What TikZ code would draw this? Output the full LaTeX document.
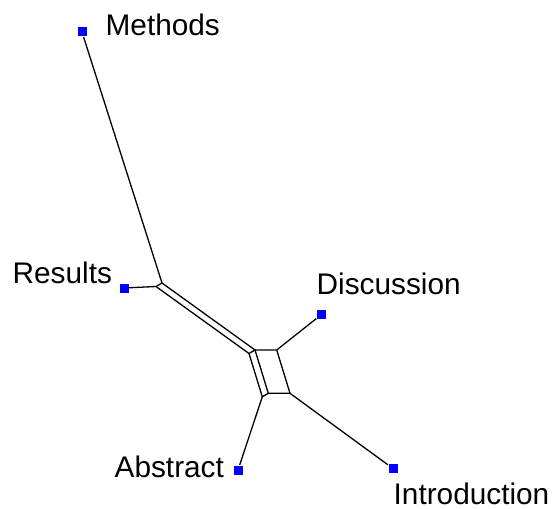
\documentclass[tikz,border=0pt]{standalone}
\usepackage{fontspec}
\setmainfont{Liberation Sans}

\begin{document}
\begin{tikzpicture}[%
x=1bp, y=-1bp, line width=1.3bp,
taxon/.style={draw=none, fill=blue, shape=rectangle, inner sep=0pt, minimum size=9bp},
lab/.style={anchor=base west, inner sep=0pt, font=\fontsize{29.9}{30}\selectfont}]%Squares for the leaves and style of their labels
\useasboundingbox (0,0) rectangle (552,509);
\node[taxon] (M) at (82,32) {};      \node[lab] (Mlab) at (105,36) {Methods};
\node[taxon] (R) at (124,288) {};    \node[lab] (Rlab) at (12,283) {Results};
\node[taxon] (D) at (321.5,314.5) {};\node[lab] (Dlab) at (316,294) {Discussion};
\node[taxon] (A) at (238,470) {};    \node[lab] (Alab) at (114,477) {Abstract};
\node[taxon] (I) at (393,468.5) {};  \node[lab] (Ilab) at (393,504) {Introduction};
% inner vertices of the network
\coordinate (m1) at (162,283);   \coordinate (r1) at (156,286.5);
\coordinate (m2) at (255,350);   \coordinate (r2) at (249,353.5);
\coordinate (d1) at (276.7,350); \coordinate (a1) at (268.3,393.3);
\coordinate (a2) at (262.3,396.8); \coordinate (i1) at (290,393.3);
\draw (M) -- (m1) -- (r1) -- (R); %Methods and Results
\draw (m1) -- (m2) -- (r2) -- (r1); %long parallel edges
\draw (m2) -- (d1) -- (i1) -- (a1) -- cycle; %box
\draw (r2) -- (a2) -- (a1);
\draw (d1) -- (D);
\draw (i1) -- (I);
\draw (a2) -- (A);
\end{tikzpicture}
\end{document}
